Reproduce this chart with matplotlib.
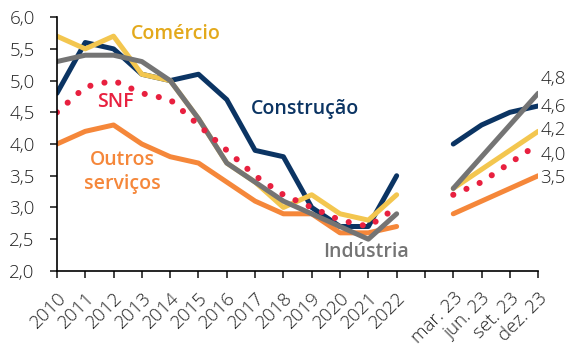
import numpy as np
import matplotlib.pyplot as plt

plt.rcParams['font.family'] = ['Open Sans', 'DejaVu Sans']

# categorias do eixo x (posição 13 fica vazia, separa anual de trimestral)
labels = [str(a) for a in range(2010, 2023)] + ['', 'mar. 23', 'jun. 23', 'set. 23', 'dez. 23']

nan = np.nan
construcao = [4.8, 5.6, 5.5, 5.1, 5.0, 5.1, 4.7, 3.9, 3.8, 3.0, 2.7, 2.7, 3.5,
              nan, 4.0, 4.3, 4.5, 4.6]
comercio = [5.7, 5.5, 5.7, 5.1, 5.0, 4.4, 3.7, 3.4, 3.0, 3.2, 2.9, 2.8, 3.2,
            nan, 3.3, 3.6, 3.9, 4.2]
industria = [5.3, 5.4, 5.4, 5.3, 5.0, 4.4, 3.7, 3.4, 3.1, 2.9, 2.7, 2.5, 2.9,
             nan, 3.3, 3.8, 4.3, 4.8]
outros = [4.0, 4.2, 4.3, 4.0, 3.8, 3.7, 3.4, 3.1, 2.9, 2.9, 2.6, 2.6, 2.7,
          nan, 2.9, 3.1, 3.3, 3.5]
snf = [4.5, 4.9, 5.0, 4.8, 4.7, 4.3, 3.9, 3.5, 3.2, 3.0, 2.8, 2.7, 3.0,
       nan, 3.2, 3.4, 3.7, 4.0]

# rótulos no fim das séries (valor mostrado, posição y do texto)
end_labels = ['4,8', '4,6', '4,2', '4,0', '3,5']
end_label_y = [5.03, 4.58, 4.22, 3.83, 3.46]

NAVY = '#0b3463'
YELLOW = '#f3c64f'
GRAY = '#747474'
ORANGE = '#f5873a'
RED = '#e8203f'

x = np.arange(len(labels))

fig = plt.figure(figsize=(5.75, 3.5), dpi=100)
ax = fig.add_axes([0.099, 0.226, 0.837, 0.725])

lw = 3.6
ax.plot(x, outros, color=ORANGE, lw=lw, solid_capstyle='round', solid_joinstyle='round')
ax.plot(x, construcao, color=NAVY, lw=lw, solid_capstyle='round', solid_joinstyle='round')
ax.plot(x, comercio, color=YELLOW, lw=lw, solid_capstyle='round', solid_joinstyle='round')
ax.plot(x, industria, color=GRAY, lw=lw, solid_capstyle='round', solid_joinstyle='round')
ax.plot(x, snf, color=RED, lw=4.4, linestyle=(0, (0.01, 2.35)), dash_capstyle='round')

ax.set_xlim(0, len(labels) - 1)
ax.set_ylim(2.0, 6.0)
yt = np.arange(2.0, 6.01, 0.5)
ax.set_yticks(yt)
ax.set_yticklabels([f'{v:.1f}'.replace('.', ',') for v in yt], fontweight='light')
ax.set_xticks(x)
ax.set_xticklabels(labels, rotation=45, ha='right', va='top', rotation_mode='anchor',
                   fontweight='light')

for s in ['top', 'right']:
    ax.spines[s].set_visible(False)
for s in ['left', 'bottom']:
    ax.spines[s].set_linewidth(1.2)
ax.tick_params(axis='both', length=5, width=1.2, labelsize=13.5, colors='#222222')
ax.tick_params(axis='y', pad=11)
ax.tick_params(axis='x', pad=8)

# nomes das séries
tkw = dict(fontsize=14, fontweight='semibold', ha='center', va='center')
ax.text(4.2, 5.74, 'Comércio', color='#e3a91c', **tkw)
ax.text(2.05, 4.66, 'SNF', color=RED, **tkw)
ax.text(8.75, 4.55, 'Construção', color=NAVY, **tkw)
ax.text(2.3, 3.75, 'Outros', color=ORANGE, **tkw)
ax.text(2.3, 3.37, 'serviços', color=ORANGE, **tkw)
ax.text(10.9, 2.3, 'Indústria', color=GRAY, **tkw)

for txt, yv in zip(end_labels, end_label_y):
    ax.text(17.08, yv, txt, fontsize=13.5, fontweight='light', color='#222222',
            ha='left', va='center', clip_on=False)

fig.savefig('out.png', dpi=100)
